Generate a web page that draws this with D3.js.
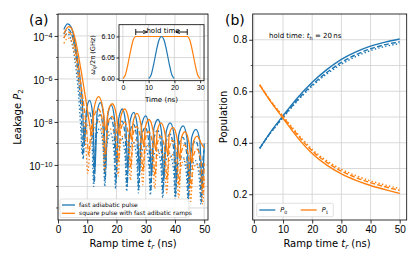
<!DOCTYPE html>
<html>
<head>
<meta charset="utf-8">
<script src="https://cdn.jsdelivr.net/npm/d3@7"></script>
<style>
  body { margin: 0; background: #fff; }
  svg { font-family: "DejaVu Sans", sans-serif; }
</style>
</head>
<body>
<svg id="chart" width="415" height="260"></svg>
<script>
// ---- data ----
// (a) leakage vs ramp time, [t_r (ns), P2]
const leakBlueSolid = [[2,2.0e-4],[3.3,3.6e-4],[4.5,2.6e-4],[5.5,8e-5],[6.5,1.2e-5],[7.5,1.2e-6],[8.3,1.0e-7],[9.0,8e-10],[9.7,3e-8],[10.8,1.0e-7],[11.9,2e-8],[12.6,5e-11],[13.4,3e-8],[14.5,8e-8],[15.6,2e-8],[16.3,8e-11],[17.0,2e-8],[18.2,6e-8],[19.3,1.5e-8],[20.0,1e-10],[20.8,1.5e-8],[22.0,4e-8],[23.1,1e-8],[23.9,6e-11],[24.6,1e-8],[25.9,2.8e-8],[27.1,7e-9],[27.9,4e-11],[28.6,7e-9],[30.0,1.9e-8],[31.2,5e-9],[32.0,3e-11],[32.8,5e-9],[34.2,1.3e-8],[35.4,3.5e-9],[36.2,2e-11],[37.0,3.5e-9],[38.4,9e-9],[39.7,2.5e-9],[40.5,1.5e-11],[41.3,2.5e-9],[42.8,6.5e-9],[44.1,1.8e-9],[44.9,1e-11],[45.7,1.8e-9],[47.2,4.5e-9],[48.5,1.3e-9],[49.3,8e-12],[50,1.0e-9]];
const leakBlueDashed = [[2,1.2e-4],[3.3,2.1e-4],[4.5,1.4e-4],[5.5,4e-5],[6.5,5e-6],[7.3,4e-7],[8.0,2e-8],[8.6,2e-10],[9.3,8e-9],[10.6,3e-8],[11.8,5e-9],[12.4,1.5e-11],[13.1,6e-9],[14.4,2.2e-8],[15.5,4e-9],[16.1,2e-11],[16.8,4e-9],[18.1,1.6e-8],[19.2,3e-9],[19.8,1.5e-11],[20.5,3e-9],[21.9,1.1e-8],[23.0,2e-9],[23.6,1e-11],[24.3,2e-9],[25.8,8e-9],[27.0,1.5e-9],[27.6,8e-12],[28.3,1.5e-9],[29.9,5.5e-9],[31.1,1e-9],[31.7,6e-12],[32.4,1e-9],[34.1,4e-9],[35.3,7e-10],[35.9,5e-12],[36.6,7e-10],[38.3,2.7e-9],[39.6,5e-10],[40.2,4e-12],[40.9,5e-10],[42.7,1.9e-9],[44.0,3.5e-10],[44.6,3e-12],[45.3,3.5e-10],[47.1,1.3e-9],[48.4,2.5e-10],[49.0,2e-12],[49.6,2e-10],[50,5e-10]];
const leakBlueDotted = [[2,8e-5],[3.2,1.3e-4],[4.3,8e-5],[5.3,2e-5],[6.2,2.5e-6],[7.0,2e-7],[7.7,8e-9],[8.3,3e-10],[9.0,3e-9],[10.4,8e-9],[11.6,1.2e-9],[12.2,1e-11],[12.9,1.5e-9],[14.3,5e-9],[15.4,8e-10],[16.0,1e-11],[16.7,8e-10],[18.0,3e-9],[19.1,5e-10],[19.7,8e-12],[20.4,5e-10],[21.8,1.8e-9],[22.9,3e-10],[23.5,6e-12],[24.2,3e-10],[25.7,1.2e-9],[26.9,2e-10],[27.5,5e-12],[28.2,2e-10],[29.8,8e-10],[31.0,1.3e-10],[31.6,4e-12],[32.3,1.3e-10],[34.0,5.5e-10],[35.2,9e-11],[35.8,3e-12],[36.5,9e-11],[38.2,3.5e-10],[39.5,6e-11],[40.1,2.5e-12],[40.8,6e-11],[42.6,2.5e-10],[43.9,4e-11],[44.5,2e-12],[45.2,4e-11],[47.0,1.6e-10],[48.3,2.5e-11],[48.9,1.5e-12],[49.5,2.5e-11],[50,8e-11]];
const leakOrangeSolid = [[2,1.3e-4],[3.7,2.7e-4],[5,1.8e-4],[6,6e-5],[7,1.2e-5],[8,2e-6],[9,3e-7],[10,4e-8],[10.8,8e-9],[11.5,2.5e-9],[12.3,4e-8],[13.9,1.5e-7],[15.4,4e-8],[16.4,4e-9],[17.1,3e-8],[18.6,7e-8],[20.0,2e-8],[20.9,2.5e-9],[21.5,1.8e-8],[22.8,4e-8],[24.2,1.2e-8],[25.1,1.5e-9],[25.7,1e-8],[27.0,2.5e-8],[28.4,7e-9],[29.3,8e-10],[29.9,6e-9],[31.1,1.3e-8],[32.5,4e-9],[33.4,5e-10],[34.0,4e-9],[35.2,9e-9],[36.6,2.8e-9],[37.5,3e-10],[38.1,2.8e-9],[39.3,5.6e-9],[40.7,1.8e-9],[41.6,2e-10],[42.2,1.8e-9],[43.4,3.5e-9],[44.8,1.1e-9],[45.7,1.2e-10],[46.3,1.2e-9],[47.6,2.2e-9],[49.0,1e-9],[50,6e-10]];
const leakOrangeDashed = [[2,8e-5],[3.6,1.5e-4],[4.9,9e-5],[5.9,2.5e-5],[6.9,4e-6],[7.9,5e-7],[8.9,5e-8],[9.8,4e-9],[10.5,3e-10],[11.2,3e-9],[12.2,1.6e-8],[13.8,4e-8],[15.3,1e-8],[16.2,3e-10],[16.9,8e-9],[18.5,1.8e-8],[19.9,4e-9],[20.7,1.5e-10],[21.4,4e-9],[22.7,1e-8],[24.1,2.5e-9],[24.9,8e-11],[25.6,2.5e-9],[26.9,6e-9],[28.3,1.5e-9],[29.1,5e-11],[29.8,1.5e-9],[31.0,3.5e-9],[32.4,9e-10],[33.2,3e-11],[33.9,9e-10],[35.1,2.2e-9],[36.5,5.5e-10],[37.3,2e-11],[38.0,5.5e-10],[39.2,1.4e-9],[40.6,3.5e-10],[41.4,1.2e-11],[42.1,3.5e-10],[43.3,8.5e-10],[44.7,2.2e-10],[45.5,8e-12],[46.2,2.2e-10],[47.5,5.5e-10],[48.9,1.5e-10],[49.6,5e-12],[50,1.2e-10]];
const leakOrangeDotted = [[2,4.5e-5],[3.5,8e-5],[4.8,4.5e-5],[5.8,1.1e-5],[6.8,1.5e-6],[7.8,1.5e-7],[8.8,1e-8],[9.6,5e-10],[10.2,4e-11],[10.9,5e-10],[12.1,4e-9],[13.7,1.2e-8],[15.2,2.5e-9],[16.0,5e-11],[16.7,2e-9],[18.4,5e-9],[19.8,1e-9],[20.6,3e-11],[21.3,1e-9],[22.6,2.6e-9],[24.0,6e-10],[24.8,2e-11],[25.5,6e-10],[26.8,1.5e-9],[28.2,3.5e-10],[29.0,1.2e-11],[29.7,3.5e-10],[30.9,8.5e-10],[32.3,2e-10],[33.1,8e-12],[33.8,2e-10],[35.0,5e-10],[36.4,1.2e-10],[37.2,5e-12],[37.9,1.2e-10],[39.1,3e-10],[40.5,7e-11],[41.3,3e-12],[42.0,7e-11],[43.2,1.8e-10],[44.6,4.5e-11],[45.4,2e-12],[46.1,4.5e-11],[47.4,1.1e-10],[48.8,3e-11],[49.5,1.5e-12],[50,2.5e-11]];

// inset: qubit frequency vs time
const insetSquareT = [0,1,2,3,4,5,25,26,27,28,29,30];
const insetSquareF = [6.000,6.009,6.035,6.066,6.091,6.100,6.100,6.091,6.066,6.035,6.009,6.000];
const insetFastT = [10,11,12,13,14,15,16,17,18,19,20];
const insetFastF = [6.000,6.009,6.035,6.066,6.091,6.100,6.091,6.066,6.035,6.009,6.000];

// (b) populations vs ramp time
const popT = [2,5,10,15,20,25,30,35,40,45,50];
const p0Solid  = [0.378,0.430,0.505,0.575,0.635,0.684,0.724,0.753,0.775,0.791,0.803];
const p0Dashed = [0.378,0.428,0.500,0.567,0.625,0.673,0.712,0.742,0.765,0.781,0.792];
const p0Dotted = [0.378,0.427,0.497,0.563,0.620,0.667,0.705,0.735,0.758,0.774,0.785];
const p1Solid  = [0.625,0.572,0.495,0.420,0.358,0.313,0.279,0.254,0.234,0.218,0.203];
const p1Dashed = [0.625,0.574,0.500,0.430,0.368,0.324,0.290,0.265,0.245,0.229,0.215];
const p1Dotted = [0.625,0.575,0.503,0.435,0.374,0.330,0.297,0.272,0.252,0.236,0.222];

const xTicks = [0,10,20,30,40,50];
const leakMajor = [-4,-6,-8,-10];
const leakMinor = [-3,-5,-7,-9,-11,-12];
const popMajor = [0.2,0.4,0.6,0.8];
const popMinor = [0.3,0.5,0.7];

const BLUE = "#1f77b4", ORANGE = "#ff7f0e", GRID = "#d0d0d0";
const dashes = { solid: null, dashed: "5,2.2", dotted: "1.4,2.2" };

const svg = d3.select("#chart");

function grid(g, x, y, xs, ys) {
    const [x0, x1] = x.range(), [y0, y1] = y.range();
    g.selectAll(".gx").data(xs).enter().append("line")
        .attr("x1", d => x(d)).attr("x2", d => x(d)).attr("y1", y0).attr("y2", y1)
        .attr("stroke", GRID).attr("stroke-width", 0.8);
    g.selectAll(".gy").data(ys).enter().append("line")
        .attr("x1", x0).attr("x2", x1).attr("y1", d => y(d)).attr("y2", d => y(d))
        .attr("stroke", GRID).attr("stroke-width", 0.8);
}

function frame(g, x, y) {
    const [x0, x1] = x.range(), [y0, y1] = y.range();
    g.append("rect").attr("x", x0).attr("y", y1).attr("width", x1 - x0).attr("height", y0 - y1)
        .attr("fill", "none").attr("stroke", "#000").attr("stroke-width", 0.8);
}

function styleAxis(a, size) {
    a.select(".domain").remove();
    a.selectAll(".tick line").attr("stroke-width", 0.8);
    a.selectAll("text").attr("font-size", size).attr("fill", "#000");
}

function supLabel(sel, exp) {
    sel.text("10");
    sel.append("tspan").attr("dy", "-0.45em").attr("font-size", "0.72em").text("\u2212" + Math.abs(exp));
}

// ================= panel (a) =================
const ax = d3.scaleLinear().domain([0, 51.3]).range([58, 208]);
const ay = d3.scaleLog().domain([Math.pow(10, -12.56), Math.pow(10, -2.98)]).range([220, 14]);
const ga = svg.append("g");
grid(ga, ax, ay, xTicks, leakMajor.concat(leakMinor).map(e => Math.pow(10, e)));

const leakLine = d3.line().x(d => ax(d[0])).y(d => ay(d[1])).curve(d3.curveMonotoneX);
const leakSeries = [
    [leakBlueSolid, BLUE, "solid"], [leakBlueDashed, BLUE, "dashed"], [leakBlueDotted, BLUE, "dotted"],
    [leakOrangeSolid, ORANGE, "solid"], [leakOrangeDashed, ORANGE, "dashed"], [leakOrangeDotted, ORANGE, "dotted"]
];
const clipA = svg.append("clipPath").attr("id", "clipA").append("rect")
    .attr("x", 58).attr("y", 14).attr("width", 150).attr("height", 206);
ga.append("g").attr("clip-path", "url(#clipA)").selectAll("path").data(leakSeries).enter().append("path")
    .attr("d", d => leakLine(d[0]))
    .attr("fill", "none").attr("stroke", d => d[1]).attr("stroke-width", 1.3)
    .attr("stroke-dasharray", d => dashes[d[2]]);

// axes (a)
const axA = ga.append("g").attr("transform", "translate(0,220)")
    .call(d3.axisBottom(ax).tickValues(xTicks).tickSize(3.5).tickPadding(2).tickFormat(d3.format("d")));
styleAxis(axA, 10);
const ayA = ga.append("g").attr("transform", "translate(58,0)")
    .call(d3.axisLeft(ay).tickValues(leakMajor.map(e => Math.pow(10, e))).tickSize(3.5).tickPadding(2).tickFormat(""));
styleAxis(ayA, 10);
ayA.selectAll(".tick text").each(function (d, i) { supLabel(d3.select(this), leakMajor[i]); })
    .attr("dy", "0.5em");
ga.append("g").selectAll("line").data(leakMinor).enter().append("line")
    .attr("x1", 56).attr("x2", 58).attr("y1", d => ay(Math.pow(10, d))).attr("y2", d => ay(Math.pow(10, d)))
    .attr("stroke", "#000").attr("stroke-width", 0.6);
frame(ga, ax, ay);

// legend (a)
const lgA = ga.append("g");
lgA.append("rect").attr("x", 60).attr("y", 199).attr("width", 129).attr("height", 18.5).attr("rx", 1.5)
    .attr("fill", "#fff").attr("fill-opacity", 0.85).attr("stroke", "#ccc").attr("stroke-width", 0.6);
[["fast adiabatic pulse", BLUE], ["square pulse with fast adibatic ramps", ORANGE]].forEach((e, i) => {
    const yy = 205 + i * 8.3;
    lgA.append("line").attr("x1", 62).attr("x2", 75).attr("y1", yy).attr("y2", yy)
        .attr("stroke", e[1]).attr("stroke-width", 1.3);
    lgA.append("text").attr("x", 79).attr("y", yy + 2).attr("font-size", 6).text(e[0]);
});

// inset
const ix = d3.scaleLinear().domain([-1.5, 31.5]).range([119, 204]);
const iy = d3.scaleLinear().domain([5.995, 6.128]).range([80.7, 24.7]);
const gi = svg.append("g");
gi.append("rect").attr("x", 119).attr("y", 24.7).attr("width", 85).attr("height", 56).attr("fill", "#fff");
grid(gi, ix, iy, [0, 10, 20, 30], [6.00, 6.05, 6.10]);
const insetLine = d3.line().x(d => ix(d[0])).y(d => iy(d[1])).curve(d3.curveMonotoneX);
gi.append("path").attr("d", insetLine(insetSquareT.map((t, i) => [t, insetSquareF[i]])))
    .attr("fill", "none").attr("stroke", ORANGE).attr("stroke-width", 1.2);
gi.append("path").attr("d", insetLine(insetFastT.map((t, i) => [t, insetFastF[i]])))
    .attr("fill", "none").attr("stroke", BLUE).attr("stroke-width", 1.2);
const ixA = gi.append("g").attr("transform", "translate(0,80.7)")
    .call(d3.axisBottom(ix).tickValues([0, 10, 20, 30]).tickSize(2.5).tickPadding(1.5));
styleAxis(ixA, 7);
const iyA = gi.append("g").attr("transform", "translate(119,0)")
    .call(d3.axisLeft(iy).tickValues([6.00, 6.05, 6.10]).tickSize(2.5).tickPadding(1.5).tickFormat(d3.format(".2f")));
styleAxis(iyA, 7);
frame(gi, ix, iy);
gi.append("text").attr("x", 161.5).attr("y", 101.5).attr("text-anchor", "middle").attr("font-size", 7).text("Time (ns)");
const iyl = gi.append("text").attr("transform", "translate(95,55) rotate(-90)").attr("text-anchor", "middle").attr("font-size", 6.6);
iyl.append("tspan").attr("font-style", "italic").text("\u03c9");
iyl.append("tspan").attr("font-size", 4.8).attr("dy", 1.3).attr("font-style", "italic").text("q");
iyl.append("tspan").attr("dy", -1.3).text("/2\u03c0 (GHz)");
// hold time annotation
gi.append("defs").append("marker").attr("id", "arr").attr("viewBox", "0 0 6 6").attr("refX", 6).attr("refY", 3)
    .attr("markerWidth", 5).attr("markerHeight", 5).attr("orient", "auto")
    .append("path").attr("d", "M0,0.5 L6,3 L0,5.5").attr("fill", "none").attr("stroke", "#000").attr("stroke-width", 1);
[[5, 9.5], [25, 20.5]].forEach(p => {
    gi.append("line").attr("x1", ix(p[0])).attr("x2", ix(p[0])).attr("y1", 29).attr("y2", 35)
        .attr("stroke", "#000").attr("stroke-width", 0.9);
    gi.append("line").attr("x1", ix(p[0])).attr("x2", ix(p[1])).attr("y1", 32).attr("y2", 32)
        .attr("stroke", "#000").attr("stroke-width", 0.9).attr("marker-end", "url(#arr)");
});
gi.append("text").attr("x", 163).attr("y", 33).attr("text-anchor", "middle").attr("font-size", 7)
    .text("hold time");

// labels (a)
svg.append("text").attr("x", 29).attr("y", 25).attr("font-size", 14).text("(a)");
const ylA = svg.append("text").attr("transform", "translate(21,117) rotate(-90)").attr("text-anchor", "middle").attr("font-size", 10);
ylA.append("tspan").text("Leakage ");
ylA.append("tspan").attr("font-style", "italic").text("P");
ylA.append("tspan").attr("font-size", 7).attr("dy", 2).text("2");

function xLabel(cx) {
    const t = svg.append("text").attr("x", cx).attr("y", 247).attr("text-anchor", "middle").attr("font-size", 10);
    t.append("tspan").text("Ramp time ");
    t.append("tspan").attr("font-style", "italic").text("t");
    t.append("tspan").attr("font-style", "italic").attr("font-size", 7).attr("dy", 2).text("r");
    t.append("tspan").attr("dy", -2).text(" (ns)");
}
xLabel(133);

// ================= panel (b) =================
const bx = d3.scaleLinear().domain([-0.4, 52.4]).range([252.7, 406.7]);
const by = d3.scaleLinear().domain([0.1, 0.9]).range([220, 14]);
const gb = svg.append("g");
grid(gb, bx, by, xTicks, popMajor.concat(popMinor));
const popLine = d3.line().x(d => bx(d[0])).y(d => by(d[1])).curve(d3.curveMonotoneX);
const popSeries = [
    [p0Solid, BLUE, "solid"], [p0Dashed, BLUE, "dashed"], [p0Dotted, BLUE, "dotted"],
    [p1Solid, ORANGE, "solid"], [p1Dashed, ORANGE, "dashed"], [p1Dotted, ORANGE, "dotted"]
];
gb.append("g").selectAll("path").data(popSeries).enter().append("path")
    .attr("d", d => popLine(popT.map((t, i) => [t, d[0][i]])))
    .attr("fill", "none").attr("stroke", d => d[1]).attr("stroke-width", 1.4)
    .attr("stroke-dasharray", d => dashes[d[2]]);
const bxA = gb.append("g").attr("transform", "translate(0,220)")
    .call(d3.axisBottom(bx).tickValues(xTicks).tickSize(3.5).tickPadding(2).tickFormat(d3.format("d")));
styleAxis(bxA, 10);
const byA = gb.append("g").attr("transform", "translate(252.7,0)")
    .call(d3.axisLeft(by).tickValues(popMajor).tickSize(3.5).tickPadding(2).tickFormat(d3.format(".1f")));
styleAxis(byA, 10);
gb.append("g").selectAll("line").data(popMinor).enter().append("line")
    .attr("x1", 250.7).attr("x2", 252.7).attr("y1", d => by(d)).attr("y2", d => by(d))
    .attr("stroke", "#000").attr("stroke-width", 0.6);
frame(gb, bx, by);

const ht = gb.append("text").attr("x", 269).attr("y", 38).attr("font-size", 7);
ht.append("tspan").text("hold time: ");
ht.append("tspan").attr("font-style", "italic").text("t");
ht.append("tspan").attr("font-size", 5).attr("dy", 1.5).text("h");
ht.append("tspan").attr("dy", -1.5).text(" = 20\u2009ns");

// legend (b)
const lgB = gb.append("g");
lgB.append("rect").attr("x", 256.7).attr("y", 203.3).attr("width", 76.6).attr("height", 13.4).attr("rx", 1.5)
    .attr("fill", "#fff").attr("fill-opacity", 0.85).attr("stroke", "#ccc").attr("stroke-width", 0.6);
[["0", BLUE, 259.3], ["1", ORANGE, 300.7]].forEach(e => {
    lgB.append("line").attr("x1", e[2]).attr("x2", e[2] + 16).attr("y1", 210).attr("y2", 210)
        .attr("stroke", e[1]).attr("stroke-width", 1.3);
    const t = lgB.append("text").attr("x", e[2] + 21).attr("y", 212.3).attr("font-size", 6.5);
    t.append("tspan").attr("font-style", "italic").text("P");
    t.append("tspan").attr("font-size", 4.5).attr("dy", 1.3).text(e[0]);
});

svg.append("text").attr("x", 225).attr("y", 25).attr("font-size", 14).text("(b)");
svg.append("text").attr("transform", "translate(227,117) rotate(-90)").attr("text-anchor", "middle")
    .attr("font-size", 10).text("Population");
xLabel(327);
</script>
</body>
</html>
